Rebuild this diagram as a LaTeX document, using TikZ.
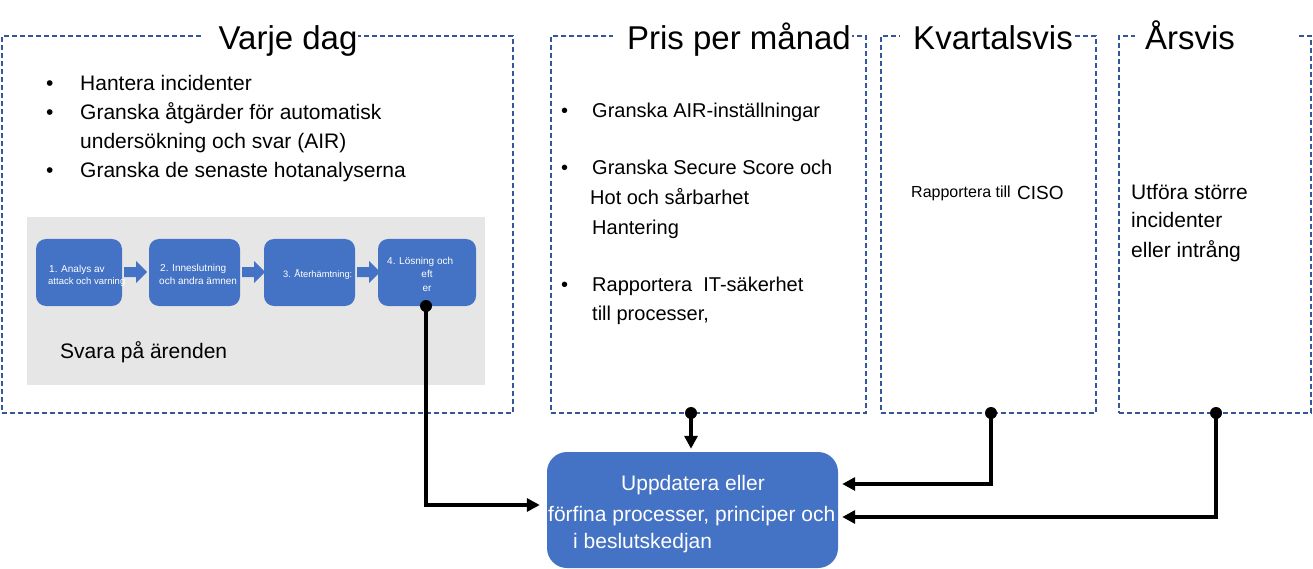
\documentclass[tikz,border=0pt]{standalone}
\usepackage{fontspec}
\setmainfont{Liberation Sans}
\usetikzlibrary{arrows.meta,calc}
\definecolor{accblue}{HTML}{4472C4}
\definecolor{dashblue}{HTML}{35569A}
\definecolor{panelgray}{HTML}{E7E6E6}
\newcommand\setfs[1]{\fontsize{#1}{#1}\selectfont}
\tikzset{
  dashbox/.style={draw=dashblue, dash pattern=on 5pt off 3pt, line width=1.2pt, rectangle, inner sep=0pt},
  stepbox/.style={fill=accblue, rectangle, rounded corners=10pt, inner sep=0pt},
  blockarr/.style={fill=accblue},
  title/.style={anchor=base, inner sep=0pt, font=\setfs{33}},
  txt/.style={anchor=base west, inner sep=0pt, font=\setfs{21}},
  txtm/.style={anchor=base west, inner sep=0pt, font=\setfs{20}},
  small/.style={anchor=base west, inner sep=0pt, text=white, font=\setfs{10}},
  wtxt/.style={anchor=base west, inner sep=0pt, text=white, font=\setfs{21}},
  conn/.style={line width=3.2pt, -{Triangle[length=13pt,width=13pt]}},
  dot/.style={fill=black}
}
\begin{document}
\begin{tikzpicture}[x=1pt,y=-1pt]
\useasboundingbox (0,0) rectangle (1313,569);

% dashed panels
\node[dashbox, minimum width=511pt, minimum height=377pt] (daily) at (257.5,224.5) {};
\node[dashbox, minimum width=315pt, minimum height=377pt] (monthly) at (708.5,224.5) {};
\node[dashbox, minimum width=215pt, minimum height=377pt] (quarter) at (988.5,224.5) {};
\node[dashbox, minimum width=192pt, minimum height=377pt] (yearly) at (1215,224.5) {};

% gaps for titles
\fill[white] (204,32) rectangle (358,40);
\fill[white] (613,32) rectangle (852,40);
\fill[white] (900,32) rectangle (1075,40);
\fill[white] (1135,32) rectangle (1297,40);

\node[title] (t1) at (288,50) {Varje dag};
\node[title] (t2) at (739,50) {Pris per månad};
\node[title] (t3) at (993,50) {Kvartalsvis};
\node[title] (t4) at (1190,50) {Årsvis};

% daily bullets
\node[txt] (b1) at (46,91) {•};
\node[txt] (d1) at (80,91) {Hantera incidenter};
\node[txt] (b2) at (46,120) {•};
\node[txt] (d2) at (80,120) {Granska åtgärder för automatisk};
\node[txt] (d3) at (80,149) {undersökning och svar (AIR)};
\node[txt] (b3) at (46,178) {•};
\node[txt] (d4) at (80,178) {Granska de senaste hotanalyserna};

% gray panel
\fill[panelgray] (27,217) rectangle (485,385);
\node[stepbox, minimum width=86pt, minimum height=67pt] (s1) at (79,272.5) {};
\node[stepbox, minimum width=91pt, minimum height=67pt] (s2) at (194.5,272.5) {};
\node[stepbox, minimum width=91pt, minimum height=67pt] (s3) at (309.5,272.5) {};
\node[stepbox, minimum width=98pt, minimum height=67pt] (s4) at (427,272.5) {};

\fill[blockarr] (124,267) -- (136,267) -- (136,261) -- (147,272) -- (136,283) -- (136,277) -- (124,277) -- cycle;
\fill[blockarr] (242,267) -- (254,267) -- (254,261) -- (265,272) -- (254,283) -- (254,277) -- (242,277) -- cycle;
\fill[blockarr] (357,267) -- (369,267) -- (369,261) -- (380,272) -- (369,283) -- (369,277) -- (357,277) -- cycle;

\node[small] (l1a) at (49,272) {1. Analys av};
\node[small, font=\setfs{9.5}] (l1b) at (48,284) {attack och varning};
\node[small] (l2a) at (160,271) {2. Inneslutning};
\node[small] (l2b) at (159,284) {och andra ämnen};
\node[small, font=\setfs{9.3}] (l3a) at (283,277) {3. Återhämtning:};
\node[small] (l4a) at (387,264) {4. Lösning och};
\node[small, anchor=base] (l4b) at (427,277) {eft};
\node[small, anchor=base] (l4c) at (427,291) {er};

\node[txt] (resp) at (60,358) {Svara på ärenden};

% monthly
\node[txtm] (mb1) at (561,118) {•};
\node[txtm] (m1) at (592,118) {Granska AIR-inställningar};
\node[txtm] (mb2) at (561,175) {•};
\node[txtm] (m2) at (592,175) {Granska Secure Score och};
\node[txtm] (m3) at (590,205) {Hot och sårbarhet};
\node[txtm] (m4) at (592,235) {Hantering};
\node[txtm] (mb3) at (561,291) {•};
\node[txtm] (m5) at (592,291) {Rapportera\ \ IT-säkerhet};
\node[txtm] (m6) at (592,320) {till processer,};

% quarterly
\node[anchor=base west, inner sep=0pt, font=\setfs{16}] (q1) at (911,198) {Rapportera till};
\node[anchor=base west, inner sep=0pt, font=\setfs{19}] (q2) at (1017,200) {CISO};

% yearly
\node[txt] (y1) at (1131,200) {Utföra större};
\node[txt] (y2) at (1131,228) {incidenter};
\node[txt] (y3) at (1131,257) {eller intrång};

% update box
\node[fill=accblue, rectangle, rounded corners=20pt, minimum width=291pt, minimum height=116pt, inner sep=0pt] (upd) at (692.5,510) {};
\node[wtxt, anchor=base] (u1) at (693,490) {Uppdatera eller};
\node[wtxt] (u2) at (548,521) {förfina processer, principer och};
\node[wtxt] (u3) at (573,548) {i beslutskedjan};

% connectors
\coordinate (d4pt) at (426,306);
\coordinate (mpt) at (691,413);
\coordinate (qpt) at (991,413);
\coordinate (ypt) at (1216,413);
\draw[conn, shorten >=7pt] (d4pt) |- ([yshift=5pt]upd.west);
\draw[conn, shorten >=3pt] (mpt) -- (mpt |- upd.north);
\draw[conn, shorten >=4pt] (qpt) |- ([yshift=26pt]upd.east);
\draw[conn, shorten >=4pt] (ypt) |- ([yshift=-7pt]upd.east);
\fill[dot] (d4pt) circle (6pt);
\fill[dot] (mpt) circle (6pt);
\fill[dot] (qpt) circle (6pt);
\fill[dot] (ypt) circle (6pt);
\end{tikzpicture}
\end{document}
